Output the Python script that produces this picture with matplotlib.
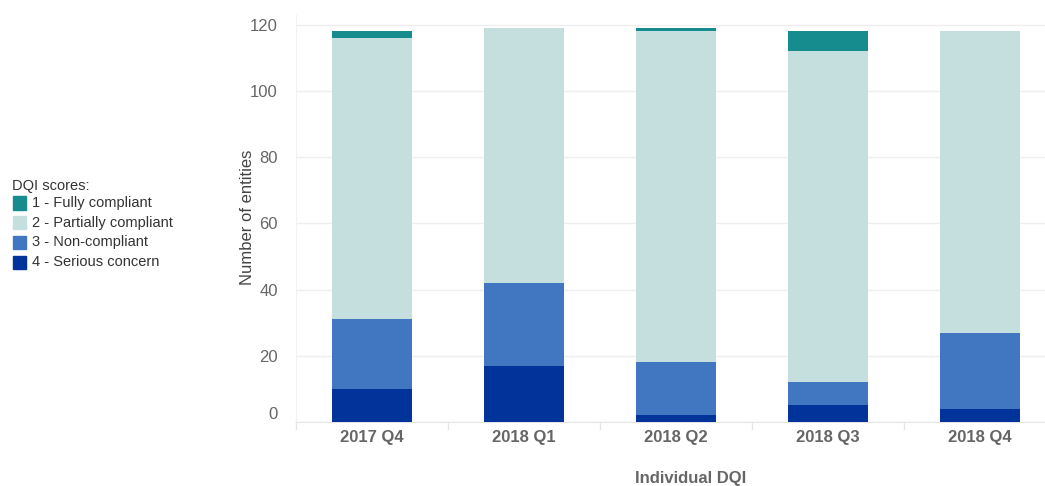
import matplotlib
matplotlib.use('Agg')
from matplotlib import pyplot as plt
from matplotlib.patches import Rectangle
import numpy as np

plt.rcParams['font.family'] = ['Liberation Sans', 'DejaVu Sans']

# DQI scores per quarter
quarters = ['2017 Q4', '2018 Q1', '2018 Q2', '2018 Q3', '2018 Q4']
serious = [10, 17, 2, 5, 4]
non_compliant = [21, 25, 16, 7, 23]
partially = [85, 77, 100, 100, 91]
fully = [2, 0, 1, 6, 0]

labels = ['1 - Fully compliant', '2 - Partially compliant',
          '3 - Non-compliant', '4 - Serious concern']
colors = ['#178c8f', '#c5dfdf', '#4177c1', '#02339a']

W, H = 1045, 486
fig = plt.figure(figsize=(W / 100, H / 100), dpi=100)

# plot area in pixels: x from 296 to 1056, zero line at y=422, 3.311 px per unit
ymax = 123
px_per_unit = 3.311
left, right, base = 296, 1056, 422
ax = fig.add_axes([left / W, (H - base) / H, (right - left) / W,
                   ymax * px_per_unit / H])

x = np.arange(len(quarters))
width = 0.526
bottom = np.zeros(len(quarters))
for vals, c in zip([serious, non_compliant, partially, fully],
                   [colors[3], colors[2], colors[1], colors[0]]):
    ax.bar(x, vals, width, bottom=bottom, color=c, zorder=3)
    bottom += np.array(vals)

ax.set_xlim(-0.5, len(quarters) - 0.5)
ax.set_ylim(0, ymax)
ax.set_yticks(range(0, 121, 20))
ax.yaxis.grid(True, color='#efefef', linewidth=1, zorder=0)
ax.tick_params(axis='y', length=0, pad=13, labelsize=12, labelcolor='#666666')
ax.set_xticks(x)
ax.set_xticklabels(quarters, fontweight='bold', fontsize=12, color='#666666')
ax.tick_params(axis='x', length=0, pad=6)
for s in ['top', 'right']:
    ax.spines[s].set_visible(False)
ax.spines['left'].set_color('#f2f2f2')
ax.spines['bottom'].set_color('#e6e6e6')

# zero label sits a bit above the base line
ylabs = ax.get_yticklabels()
ylabs[0].set_va('bottom')

# small category divider ticks below the base line
for b in np.arange(-0.5, len(quarters), 1.0):
    ax.plot([b, b], [0, -2], color='#e6e6e6', lw=1, clip_on=False)

fig.text(247 / W, 1 - 217 / H, 'Number of entities', rotation=90,
         ha='center', va='center', fontsize=12, color='#444444')
fig.text(691 / W, 1 - 486 / H, 'Individual DQI', ha='center', va='bottom',
         fontsize=12, fontweight='bold', color='#666666')

# legend on the left
fig.text(12 / W, 1 - 186 / H, 'DQI scores:', ha='left', va='center',
         fontsize=10.5, color='#333333')
for i, (lab, c) in enumerate(zip(labels, colors)):
    yc = 203 + i * 19.7
    fig.patches.append(Rectangle((13 / W, 1 - (yc + 6.5) / H), 13 / W, 13 / H,
                                 transform=fig.transFigure, color=c))
    fig.text(32 / W, 1 - yc / H, lab, ha='left', va='center',
             fontsize=10.5, color='#333333')

fig.savefig('out.png', dpi=100)
